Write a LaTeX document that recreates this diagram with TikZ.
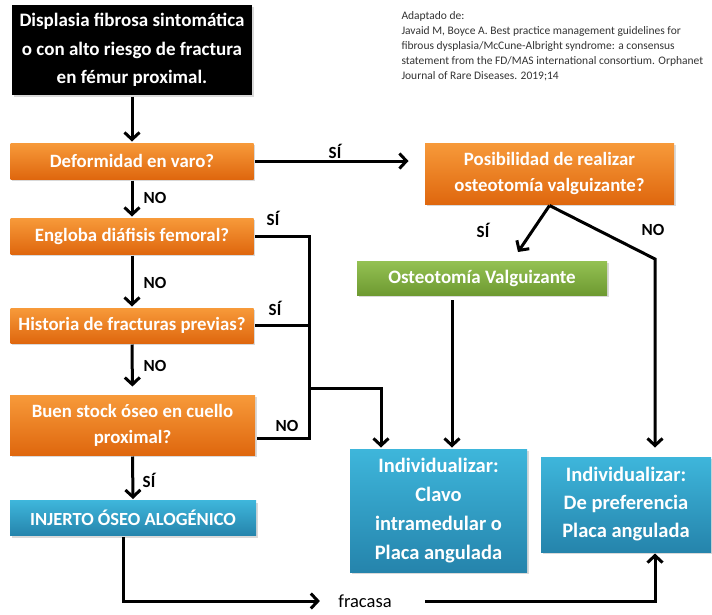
\documentclass[tikz,border=0pt]{standalone}
\usepackage{fontspec}
\setmainfont{Carlito}
\usetikzlibrary{arrows.meta}
\usetikzlibrary{positioning}
\usetikzlibrary{shadows}

\definecolor{orangetop}{HTML}{F79A3A}
\definecolor{orangebot}{HTML}{DF670E}
\definecolor{greentop}{HTML}{94C153}
\definecolor{greenbot}{HTML}{6E9A31}
\definecolor{bluetop}{HTML}{3EB6DB}
\definecolor{bluebot}{HTML}{2584AC}
\definecolor{reftext}{HTML}{333333}

\tikzset{
  box/.style={rectangle, inner sep=1pt, align=center, text=white,
    font=\bfseries\fontsize{18.8}{26}\selectfont,
    drop shadow={shadow xshift=1.5pt, shadow yshift=-2pt, opacity=0.3}},
  orangebox/.style={box, top color=orangetop, bottom color=orangebot},
  greenbox/.style={box, top color=greentop, bottom color=greenbot},
  bluebox/.style={box, top color=bluetop, bottom color=bluebot},
  answer/.style={font=\bfseries\fontsize{17}{20}\selectfont, inner sep=1pt},
  arr/.style={-{Straight Barb[length=7pt,width=15pt]}},
}

\begin{document}
\begin{tikzpicture}[x=1pt, y=-1pt, line width=3pt]
  \useasboundingbox (0,0) rectangle (712,614);

  % left column
  \node[box, fill=black, minimum width=240pt, minimum height=90pt,
    font=\bfseries\fontsize{19}{28.5}\selectfont] (start) at (132,50)
    {Displasia fibrosa sintomática\\o con alto riesgo de fractura\\en fémur proximal.};
  \node[orangebox, minimum width=243pt, minimum height=36pt] (varo) at (132,161)
    {Deformidad en varo?};
  \node[orangebox, minimum width=243pt, minimum height=36pt] (diaf) at (132,236)
    {Engloba diáfisis femoral?};
  \node[orangebox, minimum width=243pt, minimum height=35pt] (hist) at (132,325.5)
    {Historia de fracturas previas?};
  \node[orangebox, minimum width=245pt, minimum height=60pt] (stock) at (132.5,425)
    {Buen stock óseo en cuello\\proximal?};
  \node[bluebox, minimum width=246pt, minimum height=35pt,
    font=\bfseries\fontsize{18.5}{22}\selectfont] (injerto) at (133,518)
    {INJERTO ÓSEO ALOGÉNICO};

  % right side
  \node[orangebox, minimum width=249pt, minimum height=61pt] (posib) at (549.5,173.5)
    {Posibilidad de realizar\\osteotomía valguizante?};
  \node[greenbox, minimum width=250pt, minimum height=34pt,
    font=\bfseries\fontsize{19}{22}\selectfont] (osteo) at (482,278)
    {Osteotomía Valguizante};
  \node[bluebox, minimum width=177pt, minimum height=123pt,
    font=\bfseries\fontsize{20.5}{29}\selectfont] (indiv1) at (438.5,510.5)
    {Individualizar:\\Clavo\\intramedular o\\Placa angulada};
  \node[bluebox, minimum width=170pt, minimum height=95pt,
    font=\bfseries\fontsize{20.5}{28}\selectfont] (indiv2) at (626,504.5)
    {Individualizar:\\De preferencia\\Placa angulada};

  \node[font=\fontsize{18.5}{20}\selectfont, inner sep=0pt] (fracasa) at (365,601) {fracasa};

  \node[anchor=north west, align=left, text=reftext, inner sep=0pt,
    font=\fontsize{11.5}{15}\selectfont] (source) at (400,10)
    {Adaptado de:\\
     Javaid M, Boyce A. Best practice management guidelines for\\
     fibrous dysplasia/McCune-Albright syndrome: a consensus\\
     statement from the FD/MAS international consortium. Orphanet\\
     Journal of Rare Diseases. 2019;14};

  % answers
  \node[answer] (varosi) at (335,151) {SÍ};
  \node[answer] (varono) at (155,198) {NO};
  \node[answer] (diafsi) at (273,218) {SÍ};
  \node[answer] (diafno) at (155,283) {NO};
  \node[answer] (histsi) at (275,308) {SÍ};
  \node[answer] (histno) at (155,366) {NO};
  \node[answer] (stockno) at (287,426) {NO};
  \node[answer] (stocksi) at (149,480) {SÍ};
  \node[answer] (posibsi) at (483,230) {SÍ};
  \node[answer] (posibno) at (653,230) {NO};

  % connectors
  \coordinate (bus) at (309,236);
  \coordinate (stockout) at ([yshift=-13pt]stock.east);
  \coordinate (join) at (309,388);
  \coordinate (joinin) at (381,388);
  \coordinate (osteoout) at (452,300);
  \coordinate (sitip) at (518,252);
  \coordinate (nobend) at (655,259);

  \draw[arr] (start.south) -- (varo.north);
  \draw[arr] (varo.south) -- (diaf.north);
  \draw[arr] (diaf.south) -- (hist.north);
  \draw[arr, shorten >=7pt] (hist.south) -- (stock.north);
  \draw[arr] (stock.south) -- (injerto.north);
  \draw[arr, shorten >=15pt] (varo.east) -- (varo.east -| posib.west);

  \draw (diaf.east) -- (bus) -- (bus |- stockout) -- (stockout);
  \draw (hist.east) -- (hist.east -| bus);
  \draw[arr] (join) -- (joinin) -- (joinin |- indiv1.north);

  \draw[arr] (posib.south) -- (sitip);
  \draw[arr, shorten >=8pt] (posib.south) -- (nobend) -- (nobend |- indiv2.north);
  \draw[arr] (osteoout) -- (osteoout |- indiv1.north);

  \draw[arr, shorten >=17pt] ([xshift=-10pt]injerto.south) |- (fracasa.west);
  \draw[arr, shorten <=32pt] (fracasa.east) -| (nobend |- indiv2.south);
\end{tikzpicture}
\end{document}
